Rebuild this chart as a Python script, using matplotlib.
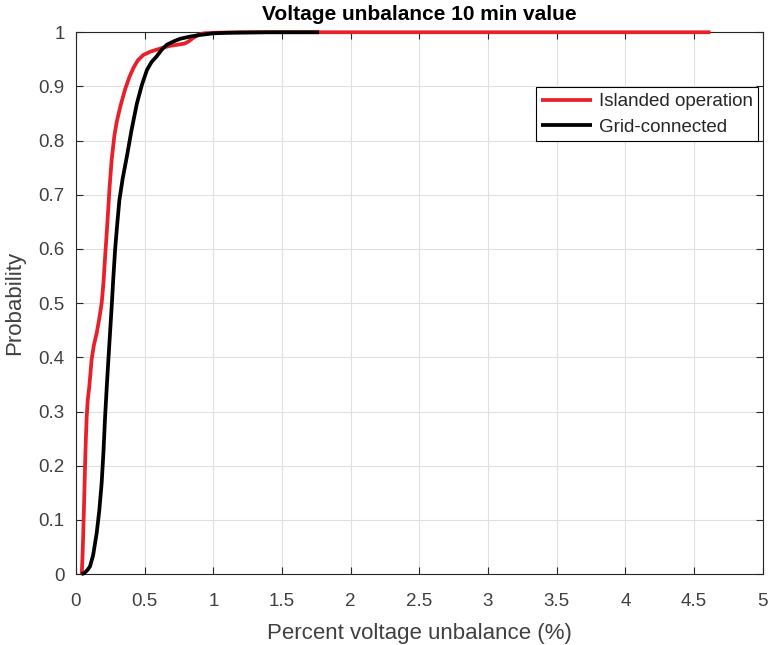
import matplotlib.pyplot as plt

plt.rcParams['font.family'] = ['Liberation Sans', 'DejaVu Sans']

# CDF
islanded_x = [0.042, 0.048, 0.053, 0.06, 0.066, 0.072, 0.078, 0.086, 0.097, 0.114, 0.13,
              0.151, 0.17, 0.187, 0.2, 0.212, 0.224, 0.234, 0.245, 0.26, 0.28, 0.297,
              0.325, 0.358, 0.39, 0.418, 0.45, 0.49, 0.54, 0.589, 0.64, 0.686, 0.74,
              0.79, 0.82, 0.856, 0.89, 0.93, 1.0, 1.2, 2.0, 3.0, 4.62]
islanded_y = [0.0, 0.035, 0.076, 0.14, 0.199, 0.25, 0.29, 0.322, 0.346, 0.396, 0.422,
              0.445, 0.472, 0.50, 0.537, 0.585, 0.63, 0.67, 0.715, 0.765, 0.81, 0.835,
              0.865, 0.895, 0.918, 0.934, 0.948, 0.958, 0.964, 0.968, 0.972, 0.975,
              0.977, 0.979, 0.983, 0.99, 0.995, 0.998, 0.999, 1.0, 1.0, 1.0, 1.0]

grid_x = [0.04, 0.055, 0.07, 0.085, 0.102, 0.125, 0.151, 0.17, 0.187, 0.2, 0.212,
          0.224, 0.236, 0.248, 0.26, 0.272, 0.285, 0.3, 0.316, 0.34, 0.37, 0.405,
          0.443, 0.48, 0.516, 0.55, 0.589, 0.625, 0.662, 0.71, 0.759, 0.83, 0.905,
          1.0, 1.1, 1.4, 1.77]
grid_y = [0.0, 0.001, 0.004, 0.008, 0.014, 0.035, 0.076, 0.118, 0.168, 0.225, 0.29,
          0.345, 0.396, 0.445, 0.494, 0.547, 0.599, 0.645, 0.69, 0.73, 0.77, 0.82,
          0.868, 0.903, 0.93, 0.945, 0.956, 0.968, 0.977, 0.983, 0.988, 0.992, 0.995,
          0.998, 0.999, 1.0, 1.0]

xticks = [0, 0.5, 1, 1.5, 2, 2.5, 3, 3.5, 4, 4.5, 5]
yticks = [0, 0.1, 0.2, 0.3, 0.4, 0.5, 0.6, 0.7, 0.8, 0.9, 1]

fig = plt.figure(figsize=(7.69, 6.45), dpi=100)
ax = fig.add_axes([0.0988, 0.110, 0.893, 0.840])

ax.plot(islanded_x, islanded_y, color='#e8202a', lw=2.7, label='Islanded operation',
        solid_joinstyle='round', solid_capstyle='butt', clip_on=False, zorder=3)
ax.plot(grid_x, grid_y, color='black', lw=2.7, label='Grid-connected',
        solid_joinstyle='round', solid_capstyle='butt', clip_on=False, zorder=3)

ax.set_xlim(0, 5)
ax.set_ylim(0, 1)
ax.set_xticks(xticks)
ax.set_xticklabels([f'{t:g}' for t in xticks])
ax.set_yticks(yticks)
ax.set_yticklabels([f'{t:g}' for t in yticks])
ax.tick_params(direction='in', labelsize=13.5, colors='#262626', labelcolor='#404040',
               length=5, top=True, right=True)
ax.tick_params(axis='x', pad=14)
ax.tick_params(axis='y', pad=8)
ax.grid(True, color='#e0e0e0', lw=0.8)
ax.set_axisbelow(True)
for s in ax.spines.values():
    s.set_color('#262626')
    s.set_linewidth(0.8)

ax.set_title('Voltage unbalance 10 min value', fontsize=15, fontweight='bold', pad=9)
ax.set_xlabel('Percent voltage unbalance (%)', fontsize=16, color='#404040', labelpad=9)
ax.set_ylabel('Probability', fontsize=16, color='#404040', labelpad=10)

leg = ax.legend(loc='upper right', bbox_to_anchor=(0.999, 0.905), fontsize=13.5,
                fancybox=False, framealpha=1, edgecolor='black', handlelength=2.7,
                borderpad=0.3, labelspacing=0.45, handletextpad=0.35, borderaxespad=0.2)
leg.get_frame().set_linewidth(0.8)
leg.set_zorder(5)
for t in leg.get_texts():
    t.set_color('#262626')

fig.savefig('out.png', dpi=100)
